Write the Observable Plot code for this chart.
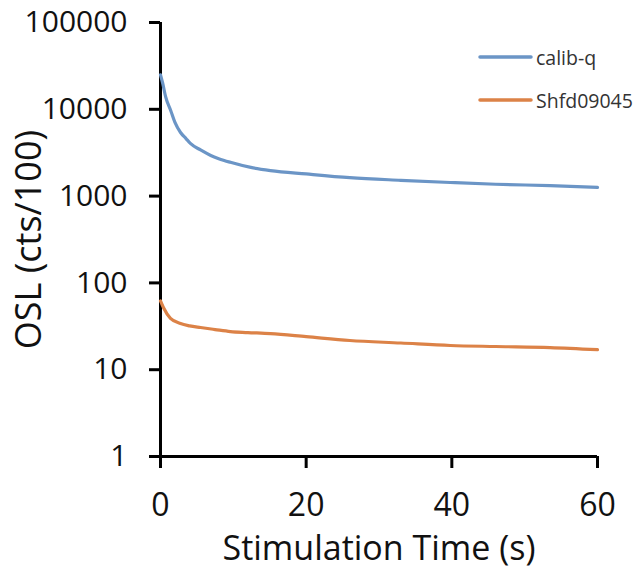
<!DOCTYPE html>
<html><head><meta charset="utf-8">
<script src="https://cdn.jsdelivr.net/npm/d3@7"></script>
<script src="https://cdn.jsdelivr.net/npm/@observablehq/plot@0.6"></script>
<style>
html,body{margin:0;padding:0;background:#fff;}
#wrap{position:relative;width:638px;height:570px;font-family:"Open Sans",sans-serif;}
#legend{position:absolute;left:478px;top:43px;font-size:19.5px;color:#333;}
#legend .item{display:flex;align-items:center;height:28px;margin-bottom:15px;}
#legend svg{margin-right:3px;}
#chart svg [aria-label="y-axis tick"], #chart svg [aria-label="x-axis tick"]{stroke-width:3px;stroke:#000;}
</style></head>
<body><div id="wrap"><div id="chart"></div><div id="legend"></div></div>
<script>
const seriesNames = ["calib-q", "Shfd09045"];
const seriesColors = ["#6b95c6", "#dc8247"];
const calibTime = [0, 0.3, 0.7, 1.4, 2, 2.75, 3.5, 4.1, 5.5, 6.9, 8, 9.6, 12.4, 15.1, 20, 26, 33, 39.8, 46, 53.5, 60];
const calibOSL = [25000, 20000, 14000, 9700, 7000, 5400, 4600, 4050, 3400, 2940, 2700, 2450, 2140, 1970, 1800, 1630, 1520, 1435, 1370, 1320, 1260];
const shfdTime = [0, 0.4, 1.37, 2.75, 4, 5.5, 7.5, 9.6, 12, 15.1, 20, 26, 33, 39.8, 46, 53.5, 60];
const shfdOSL = [62, 52, 39, 34, 32, 30.6, 29, 27.5, 26.8, 26, 24, 21.7, 20.3, 19, 18.5, 18, 17];
const yTicks = [1, 10, 100, 1000, 10000, 100000];
const xTicks = [0, 20, 40, 60];

const data = [
  ...calibTime.map((t, i) => ({t, v: calibOSL[i], s: seriesNames[0]})),
  ...shfdTime.map((t, i) => ({t, v: shfdOSL[i], s: seriesNames[1]}))
];

const chart = Plot.plot({
  width: 638, height: 570,
  marginLeft: 160, marginRight: 41, marginTop: 22, marginBottom: 114,
  style: {fontFamily: "Open Sans, sans-serif", color: "#111", background: "#fff"},
  x: {domain: [0, 60]},
  y: {type: "log", domain: [1, 100000]},
  color: {domain: seriesNames, range: seriesColors},
  marks: [
    Plot.axisY({ticks: yTicks, tickFormat: d3.format("d"), tickSize: 11, tickPadding: 22, strokeWidth: 3, stroke: "#000",
      fontSize: 30, label: null}),
    Plot.axisY({ticks: [], label: "OSL (cts/100)", labelAnchor: "center", labelArrow: "none", labelOffset: 145, fontSize: 36}),
    Plot.axisX({ticks: xTicks, tickSize: 12, tickPadding: 25, strokeWidth: 3, stroke: "#000",
      fontSize: 32, label: null}),
    Plot.axisX({ticks: [], label: "Stimulation Time (s)", labelAnchor: "center", labelArrow: "none", labelOffset: 103, fontSize: 34}),
    Plot.ruleX([0], {stroke: "#000", strokeWidth: 3}),
    Plot.ruleY([1], {stroke: "#000", strokeWidth: 3}),
    Plot.line(data, {x: "t", y: "v", z: "s", stroke: "s", strokeWidth: 3.2, curve: "monotone-x"})
  ]
});
document.getElementById("chart").appendChild(chart);

const lg = document.getElementById("legend");
seriesNames.forEach((n, i) => {
  const d = document.createElement("div");
  d.className = "item";
  d.innerHTML = `<svg width="55" height="6"><line x1="2" y1="3" x2="53" y2="3" stroke="${seriesColors[i]}" stroke-width="3.5" stroke-linecap="round"/></svg><span>${n}</span>`;
  lg.appendChild(d);
});
</script></body></html>
